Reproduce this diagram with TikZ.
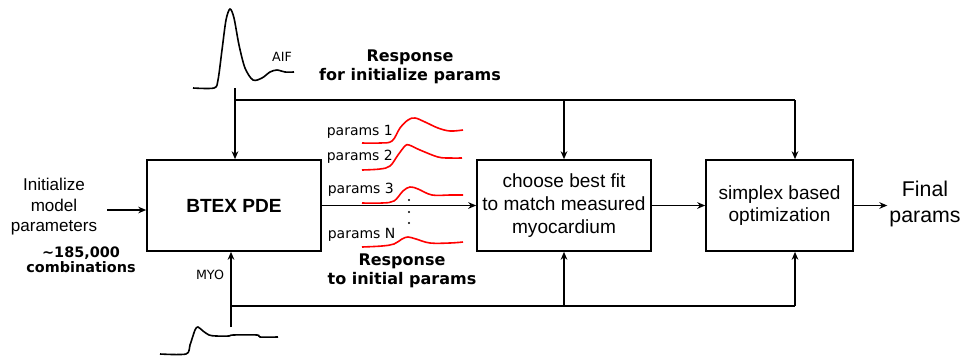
\documentclass[tikz,border=0pt]{standalone}
\usepackage{fontspec}
\setmainfont{Liberation Sans}
\newfontfamily\dv{DejaVu Sans}
\usetikzlibrary{arrows.meta}
\begin{document}
\begin{tikzpicture}[x=0.75pt,y=-0.75pt,line width=1.2pt,
  box/.style={draw,line width=1.2pt,inner sep=0pt,align=center,font=\fontsize{14.3}{17}\selectfont},
  arr/.style={-{Stealth[length=6pt,width=5pt]}},
  lbl/.style={inner sep=1pt,align=center},
  boldlbl/.style={inner sep=1pt,align=center,font=\dv\bfseries\fontsize{12}{14.2}\selectfont},
  plbl/.style={inner sep=0pt,anchor=west,font=\dv\fontsize{10.5}{12}\selectfont},
  curve/.style={red,line width=1.2pt,smooth,tension=0.6},
  sig/.style={black,line width=1.2pt,smooth,tension=0.5}]
\useasboundingbox (0,0) rectangle (965,358);
\fill[white] (0,0) rectangle (965,358);

% boxes
\node[box,minimum width=130.5pt,minimum height=68.25pt,font=\bfseries\fontsize{14.3}{17}\selectfont] (btex) at (234,205.5) {BTEX PDE};
\node[box,minimum width=130.5pt,minimum height=68.25pt] (choose) at (564,205.5) {choose best fit\\to match measured\\myocardium};
\node[box,minimum width=110.25pt,minimum height=68.25pt] (simplex) at (779.5,205.5) {simplex based\\optimization};

% texts
\node[lbl,font=\fontsize{16}{19}\selectfont] (final) at (925,204) {Final\\params};
\node[lbl,font=\fontsize{12.8}{15.4}\selectfont] (init) at (54,207) {Initialize\\model\\parameters};
\node[lbl,font=\dv\bfseries\fontsize{10.8}{11.6}\selectfont] (combo) at (81,260) {\textasciitilde185,000\\combinations};
\node[boldlbl] (resptop) at (410,67) {Response\\for initialize params};
\node[boldlbl] (respbot) at (402,271) {Response\\to initial params};
\node[lbl,font=\dv\fontsize{9.5}{11}\selectfont] (aif) at (282,57) {AIF};
\node[lbl,font=\dv\fontsize{9.5}{11}\selectfont] (myo) at (210,275) {MYO};
\node[plbl] (p1) at (326,132) {params 1};
\node[plbl] (p2) at (326,157) {params 2};
\node[plbl] (p3) at (327,190) {params 3};
\node[plbl] (pN) at (327,235) {params N};

% signals
\draw[sig] plot coordinates {(193,88) (214,88) (218,80) (222,50) (226,20) (230,9) (234,18) (239,45) (245,68) (253,80) (262,78) (270,72) (277,70) (285,72) (294,72)};
\draw[sig] plot coordinates {(160,354) (186,354) (190,345) (195,330) (198,327) (203,331) (209,335) (216,336) (229,336) (233,335) (257,335) (260,337) (278,337)};

% red responses
\draw[curve] plot coordinates {(362,143) (380,143) (392,141) (400,128) (408,120) (415,118) (425,122) (438,128) (450,131) (463,130)};
\draw[curve] plot coordinates {(362,170) (380,169) (390,166) (398,155) (405,146) (409,145) (420,150) (438,157) (450,158) (462,158)};
\draw[curve] plot coordinates {(362,203) (382,203) (394,201) (403,191) (410,187) (418,189) (432,195) (450,195) (463,195)};
\draw[curve] plot coordinates {(362,247) (382,246) (394,244) (402,239) (408,237) (416,239) (430,243) (450,243) (463,242)};
\foreach \yy in {200,212,223} \fill (409,\yy) circle (1.1);

% coordinates for the feed lines
\coordinate (initarr) at (107,210);
\coordinate (ttop) at (235,88);
\coordinate (tl) at (235,100);
\coordinate (tm) at (564,100);
\coordinate (tr) at (795,100);
\coordinate (bbot) at (231,327);
\coordinate (bl) at (231,306);
\coordinate (bm) at (564,306);
\coordinate (br) at (795,306);

% connectors
\draw[arr] (initarr) -- (initarr -| btex.west);
\draw[arr] (btex.east) -- (choose.west);
\draw[arr] (choose.east) -- (simplex.west);
\draw[arr] (simplex.east) -- (final.west |- simplex.east);

\draw[arr] (ttop) -- (ttop |- btex.north);
\draw (tl) -- (tr);
\draw[arr] (tm) -- (tm |- choose.north);
\draw[arr] (tr) -- (tr |- simplex.north);

\draw[arr] (bbot) -- (bbot |- btex.south);
\draw (bl) -- (br);
\draw[arr] (bm) -- (bm |- choose.south);
\draw[arr] (br) -- (br |- simplex.south);
\end{tikzpicture}
\end{document}
